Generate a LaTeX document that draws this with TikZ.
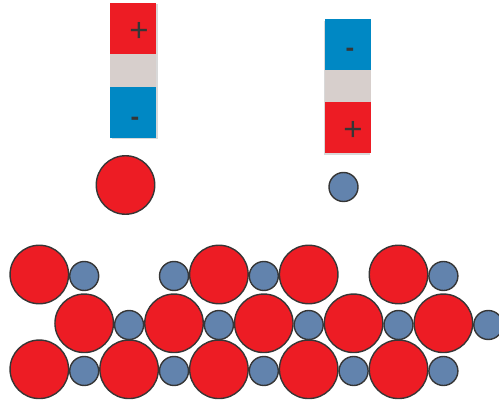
\documentclass[tikz,border=0pt]{standalone}
\usepackage{fontspec}
\newfontfamily\signfont{Liberation Sans}
\definecolor{ionred}{HTML}{ED1C24}
\definecolor{ionblue}{HTML}{6283AD}
\definecolor{barblue}{HTML}{0088C4}
\definecolor{bargray}{HTML}{D7CFCC}
\definecolor{edge}{HTML}{363636}
\definecolor{shade}{HTML}{D9D9D9}
\tikzset{
  bigion/.style={circle, draw=edge, fill=ionred, line width=1.4pt, minimum size=58.5pt, inner sep=0pt},
  smallion/.style={circle, draw=edge, fill=ionblue, line width=1.4pt, minimum size=29pt, inner sep=0pt},
  seg/.style={rectangle, minimum width=46pt, inner sep=0pt, draw=none},
  shadowseg/.style={rectangle, fill=shade, inner sep=0pt, draw=none},
  plussign/.style={text=edge, font=\signfont\fontsize{33}{33}\selectfont, inner sep=0pt},
  minussign/.style={text=edge, font=\signfont\bfseries\fontsize{26}{26}\selectfont, inner sep=0pt}
}
\begin{document}
\begin{tikzpicture}[x=1pt,y=-1pt]
\useasboundingbox (0,0) rectangle (499,406);
% left bar
\node[shadowseg, minimum width=46pt, minimum height=135pt] (lshadow) at (135,72) {};
\node[seg, fill=ionred, minimum height=51pt] (lplus) at (133,28.5) {};
\node[seg, fill=bargray, minimum height=33pt] (lmid) at (133,70.5) {};
\node[seg, fill=barblue, minimum height=51pt] (lminus) at (133,112.5) {};
\node[plussign] (lp) at (139,32) {+};
\node[minussign] (lm) at (135,121) {-};
% right bar
\node[shadowseg, minimum width=46pt, minimum height=134pt] (rshadow) at (347,88) {};
\node[seg, fill=barblue, minimum height=51pt] (rminus) at (348,44.5) {};
\node[seg, fill=bargray, minimum height=32pt] (rmid) at (348,86) {};
\node[seg, fill=ionred, minimum height=51pt] (rplus) at (348,127.5) {};
\node[minussign] (rm) at (350,52) {-};
\node[plussign] (rp) at (353,131) {+};
% single ions
\node[bigion] (cation) at (125.5,185) {};
\node[smallion] (anion) at (343.5,187) {};
% lattice
\foreach \k in {0,4,6,8} \node[bigion] (ra\k) at ({39.3+44.9*\k},274.5) {};
\foreach \k in {1,3,5,9} \node[smallion] (sa\k) at ({39.3+44.9*\k},276) {};
\foreach \k in {1,3,5,7,9} \node[bigion] (rb\k) at ({39.3+44.9*\k},323.3) {};
\foreach \k in {2,4,6,8,10} \node[smallion] (sb\k) at ({39.3+44.9*\k},325) {};
\foreach \k in {0,2,4,6,8} \node[bigion] (rc\k) at ({39.3+44.9*\k},369.3) {};
\foreach \k in {1,3,5,7,9} \node[smallion] (sc\k) at ({39.3+44.9*\k},371) {};
\end{tikzpicture}
\end{document}
